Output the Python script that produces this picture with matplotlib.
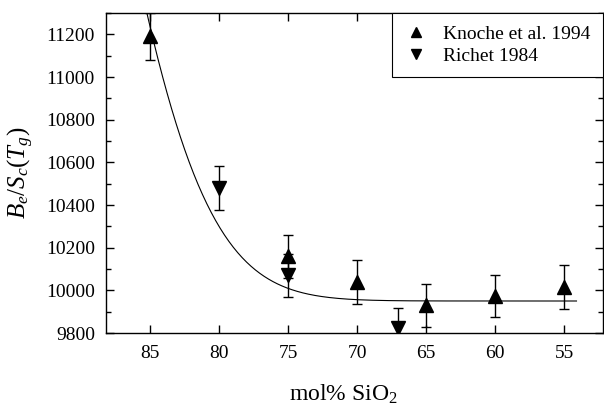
import numpy as np
import matplotlib
matplotlib.use("Agg")
import matplotlib.pyplot as plt
from matplotlib.ticker import MultipleLocator
from matplotlib.lines import Line2D

plt.rcParams['font.family'] = ['Liberation Serif', 'DejaVu Serif']
plt.rcParams['mathtext.fontset'] = 'custom'
plt.rcParams['mathtext.rm'] = 'Liberation Serif'
plt.rcParams['mathtext.it'] = 'Liberation Serif:italic'

# Knoche et al. 1994
knoche_x = [85, 75, 70, 65, 60, 55]
knoche_y = [11190, 10160, 10040, 9930, 9975, 10015]
knoche_err = [110, 100, 103, 100, 98, 103]

# Richet 1984
richet_x = [80, 75, 67]
richet_y = [10480, 10070, 9822]
richet_err = [105, 100, 95]

# fitted curve: y = base + exp(c0 - c1*u - c2*u^2), u = 85 - x
fit_base = 9950
fit_c0 = 7.16
fit_c1 = 0.2132
fit_c2 = 0.00946
fit_xmin, fit_xmax = 54.1, 86.0

fig = plt.figure(figsize=(6.04, 4.05), dpi=100)
ax = fig.add_axes([106/604, 1 - 333/405, 497.4/604, 320/405])

xf = np.linspace(fit_xmax, fit_xmin, 400)
u = 85 - xf
yf = fit_base + np.exp(fit_c0 - fit_c1*u - fit_c2*u**2)
ax.plot(xf, yf, color='black', lw=0.8)

ax.errorbar(knoche_x, knoche_y, yerr=knoche_err, fmt='^', color='black',
            ms=10, elinewidth=1, capsize=3.5, capthick=1)
ax.errorbar(richet_x, richet_y, yerr=richet_err, fmt='v', color='black',
            ms=10, elinewidth=1, capsize=3.5, capthick=1)

ax.set_xlim(88.19, 52.15)
ax.set_ylim(9800, 11300)
ax.set_xticks([85, 80, 75, 70, 65, 60, 55])
ax.yaxis.set_major_locator(MultipleLocator(200))
ax.yaxis.set_minor_locator(MultipleLocator(100))
ax.set_yticks([9800, 10000, 10200, 10400, 10600, 10800, 11000, 11200])

ax.tick_params(axis='both', which='both', direction='in', top=True, right=True,
               labelsize=14)
ax.tick_params(axis='both', which='major', length=6, width=1)
ax.tick_params(axis='both', which='minor', length=3.5, width=1)
ax.tick_params(axis='y', pad=8)
ax.tick_params(axis='x', pad=9)

for s in ax.spines.values():
    s.set_linewidth(1)

ax.set_xlabel('mol% SiO$_2$', fontsize=17)
ax.xaxis.set_label_coords(0.477, -0.155)
ax.set_ylabel('$B_e/S_c(T_g)$', fontsize=18)
ax.yaxis.set_label_coords(-0.14, 0.5)

handles = [
    Line2D([], [], ls='none', marker='^', color='black', ms=7),
    Line2D([], [], ls='none', marker='v', color='black', ms=7),
]
leg = ax.legend(handles, ['Knoche et al. 1994', 'Richet 1984'],
                loc='upper right', borderaxespad=0, fancybox=False,
                edgecolor='black', fontsize=14, handlelength=1.2,
                handletextpad=0.8, borderpad=0.65, labelspacing=0.2,
                framealpha=1)
leg.get_frame().set_linewidth(0.8)

fig.savefig('out.png', dpi=100)
